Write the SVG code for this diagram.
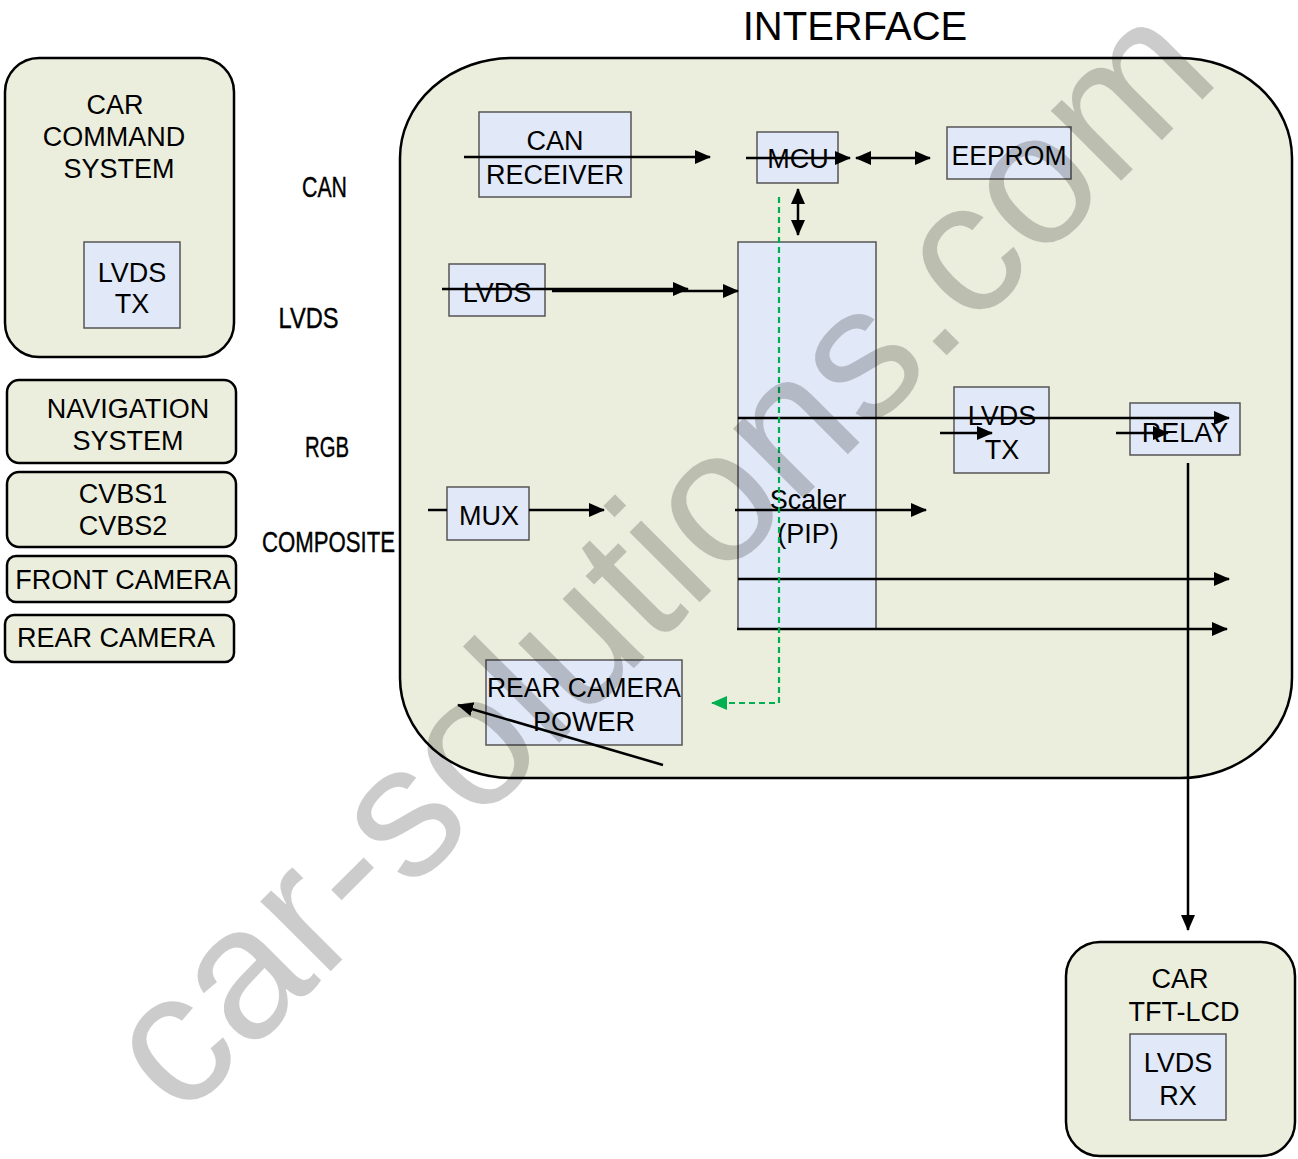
<svg xmlns="http://www.w3.org/2000/svg" width="1298" height="1159" viewBox="0 0 1298 1159">
<style>
.txt{font-family:"Liberation Sans",Arial,sans-serif;font-size:27px;fill:#000;text-anchor:middle}
.lbl{font-family:"Liberation Sans",Arial,sans-serif;font-size:29px;fill:#000;stroke:#000;stroke-width:0.4;text-anchor:middle}
.outer{fill:#EBEEDD;stroke:#000;stroke-width:2.5}
.inner{fill:#E1E8F8;stroke:#555;stroke-width:1.5}
.ln{stroke:#000;stroke-width:2.5;fill:none}
.green{stroke:#00B050;stroke-width:2.2;stroke-dasharray:6 4;fill:none}
.wm{font-family:"Liberation Sans",Arial,sans-serif;font-size:188px;fill:#000;fill-opacity:0.2}
</style>
<defs>
<marker id="ah" markerUnits="userSpaceOnUse" markerWidth="16" markerHeight="14" refX="15" refY="7" orient="auto-start-reverse">
<path d="M0,0 L16,7 L0,14 z" fill="#000"/>
</marker>
<marker id="ahg" markerUnits="userSpaceOnUse" markerWidth="16" markerHeight="14" refX="15" refY="7" orient="auto">
<path d="M0,0 L16,7 L0,14 z" fill="#00B050"/>
</marker>
</defs>
<rect width="1298" height="1159" fill="#fff"/>

<g id="car-command-system">
<rect class="outer" x="5" y="58" width="229" height="299" rx="34" ry="34"/>
<text class="txt" x="115" y="114">CAR</text>
<text class="txt" x="114" y="146">COMMAND</text>
<text class="txt" x="119" y="178">SYSTEM</text>
</g>
<g id="lvds-tx-left">
<rect class="inner" x="84" y="242" width="96" height="86"/>
<text class="txt" x="132" y="282">LVDS</text>
<text class="txt" x="132" y="313">TX</text>
</g>
<g id="navigation-system">
<rect class="outer" x="7" y="380" width="229" height="83" rx="12" ry="12"/>
<text class="txt" x="128" y="418">NAVIGATION</text>
<text class="txt" x="128" y="450">SYSTEM</text>
</g>
<g id="cvbs">
<rect class="outer" x="7" y="472" width="229" height="75" rx="12" ry="12"/>
<text class="txt" x="123" y="503">CVBS1</text>
<text class="txt" x="123" y="535">CVBS2</text>
</g>
<g id="front-camera">
<rect class="outer" x="7" y="556" width="229" height="46" rx="9" ry="9"/>
<text class="txt" x="123" y="589">FRONT CAMERA</text>
</g>
<g id="rear-camera">
<rect class="outer" x="5" y="615" width="229" height="47" rx="9" ry="9"/>
<text class="txt" x="116" y="647">REAR CAMERA</text>
</g>

<g id="labels">
<text class="lbl" x="324.5" y="197" textLength="45" lengthAdjust="spacingAndGlyphs">CAN</text>
<text class="lbl" x="308.5" y="328" textLength="60" lengthAdjust="spacingAndGlyphs">LVDS</text>
<text class="lbl" x="327" y="457" textLength="44" lengthAdjust="spacingAndGlyphs">RGB</text>
<text class="lbl" x="328.5" y="552" textLength="133" lengthAdjust="spacingAndGlyphs">COMPOSITE</text>
</g>

<g id="interface">
<rect class="outer" x="400" y="58" width="892" height="720" rx="112" ry="100"/>
<text class="txt" x="855" y="40" style="font-size:40px">INTERFACE</text>
</g>
<g id="can-receiver">
<rect class="inner" x="479" y="112" width="152" height="85"/>
<text class="txt" x="555" y="150">CAN</text>
<text class="txt" x="555" y="184">RECEIVER</text>
</g>
<g id="mcu">
<rect class="inner" x="757" y="132" width="81" height="51"/>
<text class="txt" x="798" y="168">MCU</text>
</g>
<g id="eeprom">
<rect class="inner" x="947" y="127" width="124" height="52"/>
<text class="txt" x="1009" y="165" textLength="115" lengthAdjust="spacingAndGlyphs">EEPROM</text>
</g>
<g id="lvds-in">
<rect class="inner" x="449" y="264" width="96" height="52"/>
<text class="txt" x="497" y="302">LVDS</text>
</g>
<g id="scaler">
<rect class="inner" x="738" y="242" width="138" height="387"/>
<text class="txt" x="808" y="509">Scaler</text>
<text class="txt" x="808" y="543">(PIP)</text>
</g>
<g id="mux">
<rect class="inner" x="447" y="487" width="82" height="53"/>
<text class="txt" x="489" y="525">MUX</text>
</g>
<g id="lvds-tx-right">
<rect class="inner" x="954" y="387" width="95" height="86"/>
<text class="txt" x="1002" y="425">LVDS</text>
<text class="txt" x="1002" y="459">TX</text>
</g>
<g id="relay">
<rect class="inner" x="1130" y="403" width="110" height="52"/>
<text class="txt" x="1185" y="442">RELAY</text>
</g>
<g id="rear-camera-power">
<rect class="inner" x="486" y="660" width="196" height="85"/>
<text class="txt" x="584" y="697" textLength="194" lengthAdjust="spacingAndGlyphs">REAR CAMERA</text>
<text class="txt" x="584" y="731">POWER</text>
</g>
<g id="car-tft-lcd">
<rect class="outer" x="1066" y="942" width="229" height="214" rx="34" ry="34"/>
<text class="txt" x="1180" y="988">CAR</text>
<text class="txt" x="1184" y="1021">TFT-LCD</text>
</g>
<g id="lvds-rx">
<rect class="inner" x="1130" y="1034" width="96" height="86"/>
<text class="txt" x="1178" y="1072">LVDS</text>
<text class="txt" x="1178" y="1105">RX</text>
</g>

<g id="connectors">
<line class="ln" x1="464" y1="157" x2="710" y2="157" marker-end="url(#ah)"/>
<line class="ln" x1="746" y1="158" x2="850" y2="158" marker-end="url(#ah)"/>
<line class="ln" x1="856" y1="158" x2="930" y2="158" marker-start="url(#ah)" marker-end="url(#ah)"/>
<line class="ln" x1="798" y1="189" x2="798" y2="235" marker-start="url(#ah)" marker-end="url(#ah)"/>
<line class="ln" x1="442" y1="289" x2="688" y2="289" marker-end="url(#ah)"/>
<line class="ln" x1="552" y1="291" x2="738" y2="291" marker-end="url(#ah)"/>
<line class="ln" x1="428" y1="510" x2="447" y2="510"/>
<line class="ln" x1="529" y1="510" x2="604" y2="510" marker-end="url(#ah)"/>
<line class="ln" x1="735" y1="510" x2="926" y2="510" marker-end="url(#ah)"/>
<line class="ln" x1="738" y1="418" x2="1229" y2="418" marker-end="url(#ah)"/>
<line class="ln" x1="940" y1="433" x2="992" y2="433" marker-end="url(#ah)"/>
<line class="ln" x1="1116" y1="433" x2="1168" y2="433" marker-end="url(#ah)"/>
<line class="ln" x1="1188" y1="463" x2="1188" y2="930" marker-end="url(#ah)"/>
<line class="ln" x1="738" y1="579" x2="1229" y2="579" marker-end="url(#ah)"/>
<line class="ln" x1="737" y1="629" x2="1227" y2="629" marker-end="url(#ah)"/>
<line class="ln" x1="663" y1="765" x2="458" y2="705" marker-end="url(#ah)"/>
<path class="green" d="M779,197 L779,703 L712,703" marker-end="url(#ahg)"/>
</g>

<text class="wm" x="181" y="1121" transform="rotate(-45 181 1121)">car-solutions.com</text>
</svg>
